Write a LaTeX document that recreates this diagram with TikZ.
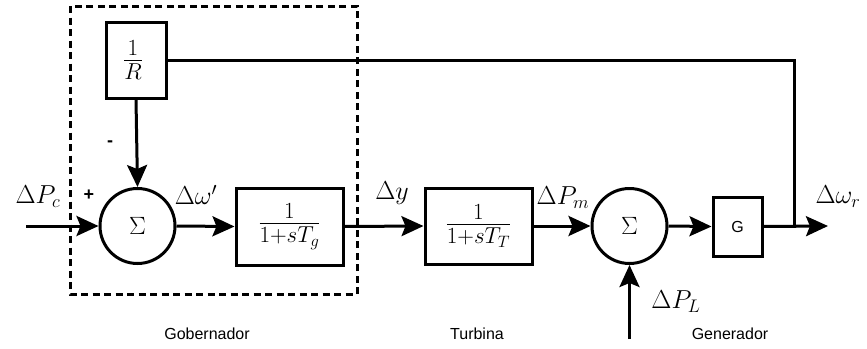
\RequirePackage{fix-cm}
\documentclass[tikz,border=0pt]{standalone}
\usepackage{fontspec}
\newfontfamily\labelfont{Liberation Sans}
\usetikzlibrary{arrows.meta}
\begin{document}
\begin{tikzpicture}[x=1pt,y=-1pt,
  line width=3pt,
  block/.style={draw,rectangle,inner sep=0pt},
  summer/.style={draw,circle,minimum size=75pt,inner sep=0pt,font=\fontsize{25}{30}\selectfont},
  sig/.style={-{Stealth[length=22pt,width=20pt,inset=4pt]}},
  mathlbl/.style={font=\fontsize{26}{30}\selectfont,inner sep=0pt},
  fraclbl/.style={font=\fontsize{33}{38}\selectfont},
  caption/.style={font=\labelfont\fontsize{16}{19}\selectfont,inner sep=0pt},
  sign/.style={font=\labelfont\bfseries\fontsize{18}{20}\selectfont,inner sep=0pt}]
\useasboundingbox (0,0) rectangle (867,348);

% governor group outline
\draw[dash pattern=on 7pt off 4.5pt] (70,6) rectangle (357,294);

% blocks
\node[block,minimum width=60pt,minimum height=76pt,fraclbl] (rbox) at (136,60) {\hspace*{-6pt}\raisebox{3pt}{$\frac{1}{R}$}};
\node[summer] (sum1) at (137.5,226) {$\Sigma$};
\node[block,minimum width=107pt,minimum height=77pt,fraclbl] (gov) at (289.5,226.5) {\raisebox{3pt}{$\frac{1}{1+sT_g}$}};
\node[block,minimum width=107pt,minimum height=76pt,fraclbl] (turb) at (478.5,226) {\raisebox{3pt}{$\frac{1}{1+sT_T}$}};
\node[summer] (sum2) at (629.5,226) {$\Sigma$};
\node[block,minimum width=49pt,minimum height=59pt,font=\labelfont\fontsize{16}{19}\selectfont] (gbox) at (737.5,226.5) {G};

% free ends
\coordinate (in) at (26,226);
\coordinate (out) at (828,226);
\coordinate (branch) at (794,226);
\coordinate (load) at (629.5,339);

% signal flow
\draw[sig] (in) -- (sum1.west);
\draw[sig] (sum1.east) -- (gov.west);
\draw[sig] (gov.east) -- (turb.west);
\draw[sig] (turb.east) -- (sum2.west);
\draw[sig] (sum2.east) -- (gbox.west);
\draw[sig] (gbox.east) -- (out);
\draw (branch) |- (rbox.east);
\draw[sig] (rbox.south) -- (sum1.north);
\draw[sig] (load) -- (sum2.south);

% signal labels
\node[mathlbl] (lpc) at (38,197) {$\Delta P_c$};
\node[sign] (plus) at (89,195) {+};
\node[sign] (minus) at (110,144) {-};
\node[mathlbl] (lw) at (196,195) {$\Delta\omega'$};
\node[mathlbl] (ly) at (392,193) {$\Delta y$};
\node[mathlbl] (lpm) at (563,198) {$\Delta P_m$};
\node[mathlbl] (lwr) at (838,197) {$\Delta\omega_r$};
\node[mathlbl] (lpl) at (676,302) {$\Delta P_L$};

% section captions
\node[caption] (cgov) at (207,334) {Gobernador};
\node[caption] (cturb) at (477,334) {Turbina};
\node[caption] (cgen) at (730,334) {Generador};
\end{tikzpicture}
\end{document}
